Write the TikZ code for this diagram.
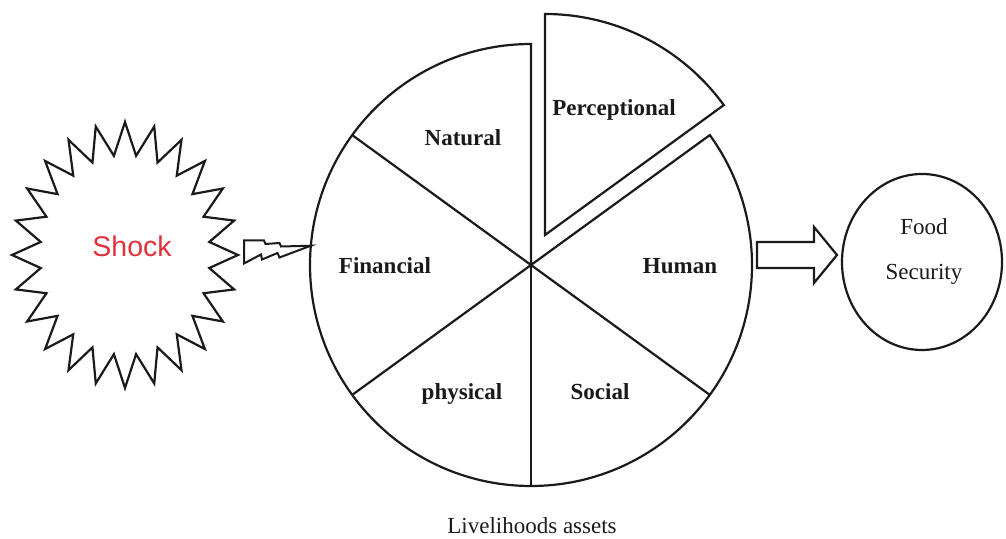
\documentclass[tikz,border=0pt]{standalone}
\usepackage{fontspec}
\setmainfont{Liberation Serif}
\newfontfamily\arialfont{Liberation Sans}
\usepackage{xcolor}
\usepackage{tikz}
\usetikzlibrary{calc,shapes.geometric}
\definecolor{ink}{HTML}{1A1A1A}
\definecolor{shockred}{HTML}{E2313B}
\tikzset{
  outline/.style={draw=ink, line width=2.2pt},
  burst/.style={draw=ink, line width=2.2pt, line join=miter},
  bolt/.style={draw=ink, line width=2pt, fill=white},
  hollow/.style={draw=ink, line width=2.2pt},
  goal/.style={ellipse, draw=ink, line width=2.2pt, minimum width=160pt, minimum height=176pt, inner sep=0pt},
  slicelab/.style={text=ink, font=\fontsize{23}{27}\selectfont\bfseries, anchor=base},
  lab/.style={text=ink, font=\fontsize{23}{27}\selectfont, anchor=base},
  shocklab/.style={text=shockred, font=\arialfont\fontsize{28.5}{34}\selectfont, anchor=base}
}

\begin{document}
\begin{tikzpicture}[x=1pt,y=1pt]
  \useasboundingbox (0,0) rectangle (1006,538);
  \coordinate (burst) at (125,283);
  \node[circle, minimum size=442pt, inner sep=0pt] (pie) at (531,273) {};
  \coordinate (cut) at ($(pie.center)+(14,30)$);
  \node[goal] (food) at (922,276) {};

  % the shock, 24 points
  \draw[burst, shift={(burst)}] (0:113 and 133)
    \foreach \a in {0,15,...,345} { -- (\a+7.5:85 and 100) -- (\a+15:113 and 133) } -- cycle;
  \node[shocklab] (shock) at (132,281) {Shock};

  % pie of assets, perceptional slice pulled out
  \draw[outline] (pie.center) -- ++(90:221) arc[start angle=90, end angle=396, radius=221] -- cycle;
  \foreach \a in {144,216,270,324} \draw[outline] (pie.center) -- ++(\a:221);
  \draw[outline] (cut) -- ++(90:221) arc[start angle=90, end angle=36, radius=221] -- cycle;

  \node[slicelab] (natural) at (463,392) {Natural};
  \node[slicelab] (perceptional) at (614,422) {Perceptional};
  \node[slicelab] (financial) at (385,264) {Financial};
  \node[slicelab] (human) at (680,264) {Human};
  \node[slicelab] (physical) at (462,138) {physical};
  \node[slicelab] (social) at (600,138) {Social};
  \node[lab] (assets) at (532,5) {Livelihoods assets};

  % lightning into the pie
  \coordinate (bolttip) at ($(pie.center)+(175:221)$);
  \draw[bolt] (bolttip) -- (281,291.5) -- (279.5,295) -- (265.5,294) -- (264,297.5)
    -- (244,297.5) -- (244,274.5) -- (261,283.5) -- (262,278.5) -- (277.5,285)
    -- (279.5,280.5) -- cycle;

  % hollow arrow to food security
  \coordinate (tail) at (757,283);
  \draw[hollow] (tail) ++(0,13) -- ++(57,0) -- ++(0,15) -- ++(23,-28) -- ++(-23,-28)
    -- ++(0,15) -- ++(-57,0) -- cycle;

  \node[lab] (foodA) at (924,303) {Food};
  \node[lab] (foodB) at (924,258) {Security};
\end{tikzpicture}
\end{document}
